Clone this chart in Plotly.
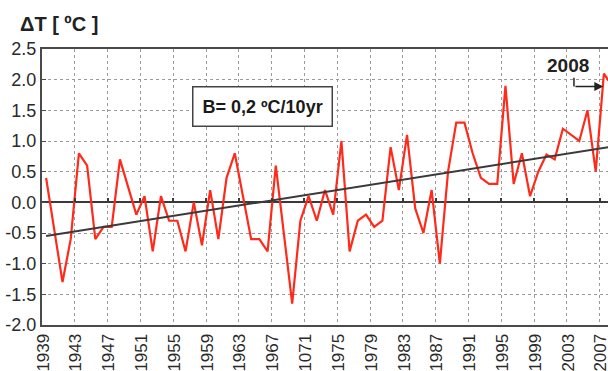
import plotly.graph_objects as go

# ---- data ----
years = list(range(1939, 2009))
anomaly = [
    0.4, -0.45, -1.3, -0.6, 0.8, 0.6, -0.6, -0.4, -0.4, 0.7,      # 1939-1948
    0.25, -0.2, 0.1, -0.8, 0.1, -0.3, -0.3, -0.8, 0.0, -0.7,      # 1949-1958
    0.2, -0.6, 0.4, 0.8, 0.1, -0.6, -0.6, -0.8, 0.6, -0.5,        # 1959-1968
    -1.65, -0.3, 0.1, -0.3, 0.2, -0.2, 1.0, -0.8, -0.3, -0.2,     # 1969-1978
    -0.4, -0.3, 0.9, 0.2, 1.1, -0.1, -0.5, 0.2, -1.0, 0.5,        # 1979-1988
    1.3, 1.3, 0.8, 0.4, 0.3, 0.3, 1.9, 0.3, 0.8, 0.1,             # 1989-1998
    0.5, 0.78, 0.7, 1.2, 1.1, 1.0, 1.5, 0.5, 2.1, 1.9,            # 1999-2008
]
trend_years = [1939, 2008]
trend_values = [-0.55, 0.91]

x_tick_vals = list(range(1939, 2008, 4))
x_tick_text = ["1939", "1943", "1947", "1951", "1955", "1959", "1963", "1967",
               "1071", "1975", "1979", "1983", "1987", "1991", "1995", "1999",
               "2003", "2007"]
grid_vals = [v - 0.5 for v in x_tick_vals]
y_tick_vals = [2.5, 2.0, 1.5, 1.0, 0.5, 0.0, -0.5, -1.0, -1.5, -2.0]
y_tick_text = ["2.5", "2.0", "1.5", "1.0", "0.5", "0.0", "-0.5", "-1.0", "-1.5", "-2.0"]

FONT = "Liberation Sans, Arial, sans-serif"
W, H = 608, 371
ML, MR, MT, MB = 42, 0, 49, 46
x_range = [1938.5, 2007.5]
y_range = [-2.0, 2.5]

fig = go.Figure()
fig.add_trace(go.Scatter(x=years, y=anomaly, mode="lines",
                         line=dict(color="#ff2a1a", width=2.2), showlegend=False))
fig.add_trace(go.Scatter(x=trend_years, y=trend_values, mode="lines",
                         line=dict(color="#3a3a3a", width=2), showlegend=False))

fig.update_layout(
    width=W, height=H, autosize=False,
    margin=dict(l=ML, r=MR, t=MT, b=MB, pad=0, autoexpand=False),
    paper_bgcolor="white", plot_bgcolor="white",
    font=dict(family=FONT, color="#2a2a2a"),
    xaxis=dict(
        range=x_range, tickmode="array", tickvals=x_tick_vals, ticktext=x_tick_text,
        tickangle=-90, tickfont=dict(size=17, family=FONT, color="#2a2a2a"),
        ticklabeloverflow="allow", ticklabelshift=-3, automargin=False,
        showgrid=False, ticks="", zeroline=False,
        showline=True, linecolor="#4a4a4a", linewidth=2, mirror=True,
        minor=dict(tickmode="array", tickvals=grid_vals, showgrid=True,
                   gridcolor="#9a9a9a", griddash="dot", gridwidth=1, ticks=""),
    ),
    xaxis2=dict(
        range=x_range, overlaying="x", anchor="free", position=2.0 / 4.5,
        tickmode="array", tickvals=grid_vals, showticklabels=False, automargin=False,
        ticks="inside", ticklen=4, tickwidth=1.5, tickcolor="#3a3a3a",
        showgrid=False, zeroline=False, showline=False,
    ),
    yaxis=dict(
        range=y_range, tickmode="array", tickvals=y_tick_vals, ticktext=y_tick_text,
        tickfont=dict(size=18, family=FONT, color="#2a2a2a"), automargin=False,
        showgrid=True, gridcolor="#9a9a9a", griddash="dot", gridwidth=1,
        zeroline=True, zerolinecolor="#3a3a3a", zerolinewidth=1.5,
        showline=True, linecolor="#4a4a4a", linewidth=2,
        ticks="inside", ticklen=4, tickcolor="#4a4a4a",
    ),
)

# invisible helper trace so the zero-line tick axis (xaxis2) is drawn
fig.add_trace(go.Scatter(x=[years[0]], y=[anomaly[0]], xaxis="x2", mode="markers",
                         marker=dict(opacity=0), showlegend=False, hoverinfo="skip"))

# axis title
fig.add_annotation(text="<b>ΔT [ ºC ]</b>", xref="paper", yref="paper",
                   x=(18 - ML) / (W - ML - MR), y=1 + (MT - 24) / (H - MT - MB),
                   xanchor="left", yanchor="middle", showarrow=False,
                   font=dict(size=20, family=FONT, color="#222"))

# slope box
fig.add_annotation(text="<b>B= 0,2 ºC/10yr</b>", x=1965.32, y=1.56, xref="x", yref="y",
                   showarrow=False, bgcolor="white", bordercolor="#444",
                   borderwidth=1.5, borderpad=9,
                   font=dict(size=18, family=FONT, color="#1a1a1a"))

# 2008 label with elbow arrow
fig.add_annotation(text="<b>2008</b>", x=2002.68, y=2.23, xref="x", yref="y",
                   showarrow=False, font=dict(size=19, family=FONT, color="#222"))
fig.add_shape(type="line", x0=2003.35, x1=2003.35, y0=2.03, y1=1.89,
              xref="x", yref="y", line=dict(color="#222", width=1.5))
fig.add_annotation(text="", x=2006.93, y=1.89, ax=2003.35, ay=1.89,
                   xref="x", yref="y", axref="x", ayref="y",
                   showarrow=True, arrowhead=2, arrowsize=1.2, arrowwidth=1.5,
                   arrowcolor="#222")

fig.write_html(
    "out.html",
    config={"displayModeBar": False},
    post_script="document.body.style.margin='0';document.body.style.padding='0';"
                "document.body.style.overflow='hidden';",
)
